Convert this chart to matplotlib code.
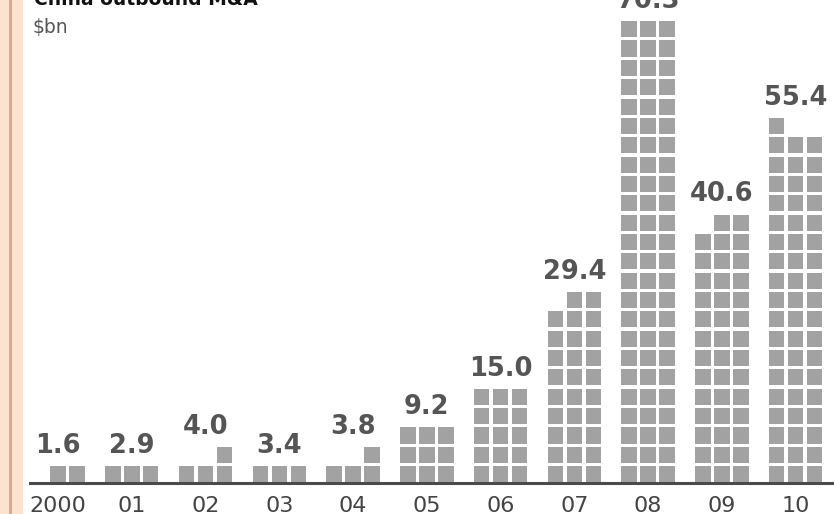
"""China outbound M&A, $bn: pictogram bars (one square ~ $1bn)."""
import matplotlib.pyplot as plt
from matplotlib.patches import Rectangle

# ---- data ---------------------------------------------------------------- #
years = ["2000", "01", "02", "03", "04", "05", "06", "07", "08", "09", "10"]
values = [1.6, 2.9, 4.0, 3.4, 3.8, 9.2, 15.0, 29.4, 70.3, 40.6, 55.4]
squares = [2, 3, 4, 3, 4, 9, 15, 29, 72, 41, 55]          # counted off the picture
partial_side = ["right", "right", "right", "right", "right", "right",
                "right", "right", "right", "right", "left"]  # where a short row sits

# ---- style --------------------------------------------------------------- #
SQ_COLOR = "#a2a2a2"
LABEL_COLOR = "#555555"
TICK_COLOR = "#444444"
COL_STEP = 0.257    # horizontal step between square columns (x units)
SQ_W = 0.21
SQ_H = 0.83         # one row = 1 y unit

W, H = 834, 514
fig = plt.figure(figsize=(W / 100, H / 100), dpi=100)

# peach stripe down the left edge
fig.patches.append(Rectangle((0, 0), 23 / W, 1, transform=fig.transFigure,
                             facecolor="#fde2d0", edgecolor="none"))
fig.patches.append(Rectangle((9 / W, 0), 2.5 / W, 1, transform=fig.transFigure,
                             facecolor="#d6ab92", edgecolor="none"))

base_px = 483
ax = fig.add_axes([30 / W, (H - base_px) / H, 1 - 30 / W, base_px / H])
ax.set_xlim(-0.38, 10.52)
ax.set_ylim(0, base_px / 19.35)

for i, (n, side) in enumerate(zip(squares, partial_side)):
    full, rest = divmod(n, 3)
    cells = [(r, c) for r in range(full) for c in range(3)]
    if rest:
        cols = [2, 1, 0][:rest] if side == "right" else [0, 1, 2][:rest]
        cells += [(full, c) for c in cols]
    for r, c in cells:
        x0 = i + (c - 1) * COL_STEP - SQ_W / 2
        ax.add_patch(Rectangle((x0, r + 0.04), SQ_W, SQ_H,
                               facecolor=SQ_COLOR, edgecolor="none"))
    top = max(r for r, _ in cells) + SQ_H
    ax.text(i, top + 0.72, f"{values[i]:.1f}", ha="center", va="baseline",
            fontsize=18.5, fontweight="bold", color=LABEL_COLOR)

for s in ["top", "right", "left"]:
    ax.spines[s].set_visible(False)
ax.spines["bottom"].set_color("#4a4a4a")
ax.spines["bottom"].set_linewidth(2.2)
ax.set_yticks([])
ax.set_xticks(range(len(years)))
ax.set_xticklabels(years, fontsize=16, color=TICK_COLOR)
ax.tick_params(axis="x", length=0, pad=9)
ax.patch.set_visible(False)

fig.text(33 / W, 1 - 28 / H, "$bn", fontsize=13.5, color="#555555",
         ha="left", va="center")
fig.text(34 / W, 1 - 5 / H, "China outbound M&A", fontsize=13.5,
         fontweight="bold", color="#111111", ha="left", va="baseline")

fig.savefig("out.png", dpi=100)
